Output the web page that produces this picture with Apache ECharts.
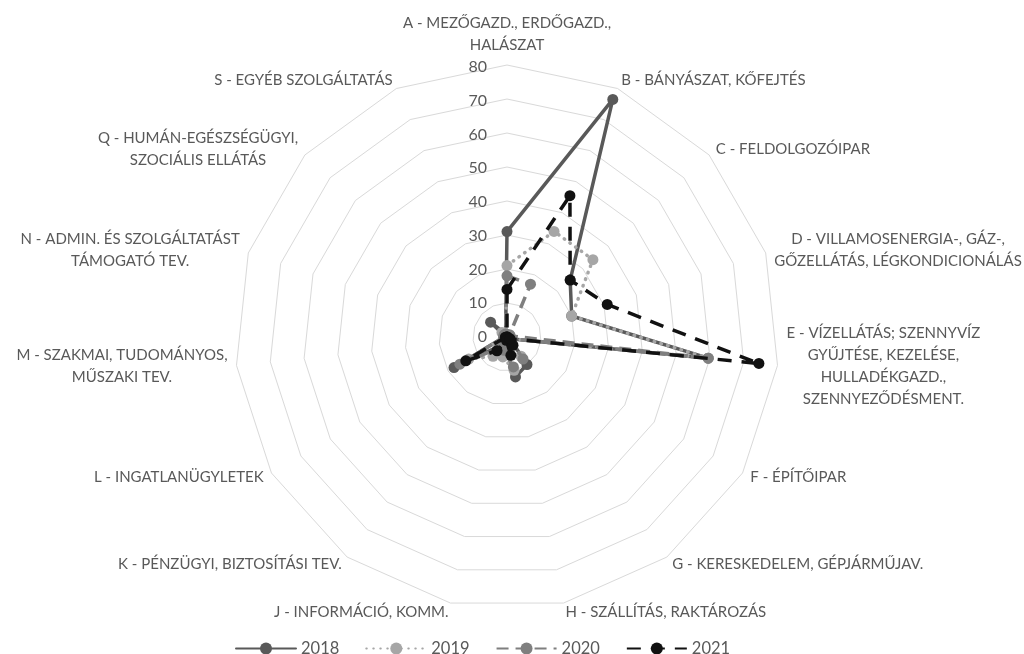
<!DOCTYPE html>
<html>
<head>
<meta charset="utf-8">
<script src="https://cdn.jsdelivr.net/npm/echarts@6/dist/echarts.min.js"></script>
<style>
html,body{margin:0;padding:0;background:#ffffff;}
#chart{width:1024px;height:654px;}
</style>
</head>
<body>
<div id="chart"></div>
<script>
// ---- data (clockwise order, starting at the top) ----
const categories = [
  'A - MEZŐGAZD., ERDŐGAZD.,\nHALÁSZAT',
  'B - BÁNYÁSZAT, KŐFEJTÉS',
  'C - FELDOLGOZÓIPAR',
  'D - VILLAMOSENERGIA-, GÁZ-,\nGŐZELLÁTÁS, LÉGKONDICIONÁLÁS',
  'E - VÍZELLÁTÁS; SZENNYVÍZ\nGYŰJTÉSE, KEZELÉSE,\nHULLADÉKGAZD.,\nSZENNYEZŐDÉSMENT.',
  'F - ÉPÍTŐIPAR',
  'G - KERESKEDELEM, GÉPJÁRMŰJAV.',
  'H - SZÁLLÍTÁS, RAKTÁROZÁS',
  'J - INFORMÁCIÓ, KOMM.',
  'K - PÉNZÜGYI, BIZTOSÍTÁSI TEV.',
  'L - INGATLANÜGYLETEK',
  'M - SZAKMAI, TUDOMÁNYOS,\nMŰSZAKI TEV.',
  'N - ADMIN. ÉS SZOLGÁLTATÁST\nTÁMOGATÓ TEV.',
  'Q - HUMÁN-EGÉSZSÉGÜGYI,\nSZOCIÁLIS ELLÁTÁS',
  'S - EGYÉB SZOLGÁLTATÁS'
];
const seriesNames = ['2018', '2019', '2020', '2021'];
const values2018 = [31, 76.5, 25, 20, 59.5, 1, 10, 12, 3, 3, 18, 1, 0.5, 6.5, 1];
const values2019 = [21, 34, 34, 20, 59.5, 1, 7, 10, 6, 7, 13, 1, 1, 2, 1];
const values2020 = [18, 17, 1, 1, 59.5, 1, 8, 9, 4, 4, 16, 1, 1, 1, 1];
const values2021 = [14, 45.5, 25, 31, 74.5, 1, 3, 5.5, 1, 5, 14, 0.5, 0, 0, 0];
const tickLabels = [0, 10, 20, 30, 40, 50, 60, 70, 80];

// ---- styling ----
const FONT = 'Lato, "Open Sans", sans-serif';
const TEXT = '#595959';
const styles = [
  { color: '#595959', type: 'solid', cap: 'round' },
  { color: '#a6a6a6', type: [0.5, 6.5], cap: 'round' },
  { color: '#7f7f7f', type: [12, 7], cap: 'butt' },
  { color: '#111111', type: [14, 10], cap: 'butt' }
];
const allValues = [values2018, values2019, values2020, values2021];

// ECharts radar goes counter-clockwise, so feed the axes in reverse (keeping A on top)
const order = [0];
for (let i = categories.length - 1; i >= 1; i--) order.push(i);

const tMin = tickLabels[0];
const tMax = tickLabels[tickLabels.length - 1];
const tInt = tickLabels[1] - tickLabels[0];

const indicator = order.map(i => ({ name: categories[i], min: tMin, max: tMax }));

const radarSeries = seriesNames.map((nm, k) => ({
  name: nm,
  type: 'radar',
  symbol: 'circle',
  symbolSize: 11,
  z: 2 + k,
  itemStyle: { color: styles[k].color },
  lineStyle: { color: styles[k].color, width: 3.5, type: styles[k].type, cap: styles[k].cap },
  data: [{ name: nm, value: order.map(i => allValues[k][i]) }]
}));

// empty line series: only give the legend a line+marker icon
const legendSeries = seriesNames.map((nm, k) => ({
  name: nm,
  type: 'line',
  xAxisIndex: 0, yAxisIndex: 0,
  symbol: 'circle',
  symbolSize: 11,
  itemStyle: { color: styles[k].color },
  lineStyle: { color: styles[k].color, width: 3.5, type: styles[k].type, cap: styles[k].cap },
  data: []
}));

const chart = echarts.init(document.getElementById('chart'), null, { renderer: 'canvas' });
chart.setOption({
  animation: false,
  backgroundColor: '#ffffff',
  textStyle: { fontFamily: FONT },
  radar: {
    center: [507, 337],
    radius: 272,
    startAngle: 90,
    shape: 'polygon',
    splitNumber: (tMax - tMin) / tInt,
    indicator: indicator,
    axisName: {
      color: TEXT,
      fontSize: 15,
      fontFamily: FONT,
      lineHeight: 22,
      formatter: function (name) {
        return name.split('\n').map(s => '{c|' + s + '}').join('\n');
      },
      rich: { c: { align: 'center', color: TEXT, fontSize: 15, fontFamily: FONT, lineHeight: 22 } }
    },
    nameGap: 9,
    axisLine: { show: false },
    axisTick: { show: false },
    axisLabel: { show: false },
    splitArea: { show: false },
    splitLine: { lineStyle: { color: '#d9d9d9', width: 1 } }
  },
  grid: { left: 507, top: 67, width: 1, height: 270, containLabel: false },
  xAxis: { type: 'value', show: false, min: 0, max: 1 },
  yAxis: {
    type: 'value',
    min: tMin, max: tMax, interval: tInt,
    axisLine: { show: false },
    axisTick: { show: false },
    splitLine: { show: false },
    axisLabel: { margin: 20, color: TEXT, fontSize: 16, fontFamily: FONT }
  },
  legend: {
    data: seriesNames,
    left: 230,
    top: 635,
    itemWidth: 60,
    itemHeight: 15,
    itemGap: 26,
    textStyle: { color: TEXT, fontSize: 16.5, fontFamily: FONT }
  },
  series: legendSeries.concat(radarSeries)
});
</script>
</body>
</html>
